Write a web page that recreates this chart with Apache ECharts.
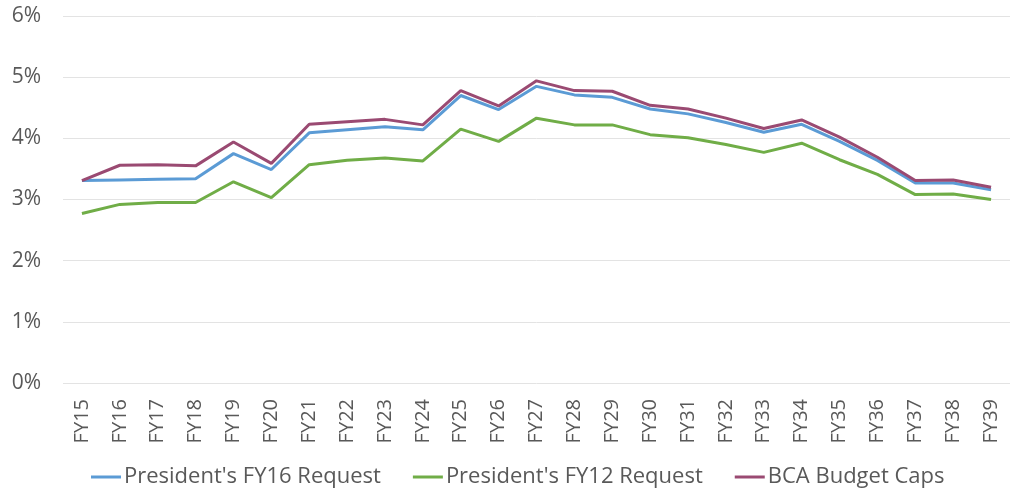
<!DOCTYPE html>
<html>
<head>
<meta charset="utf-8">
<script src="https://cdn.jsdelivr.net/npm/echarts@6/dist/echarts.min.js"></script>
<style>
  html, body { margin: 0; padding: 0; background: #fff; }
  #chart { width: 1010px; height: 497px; }
</style>
</head>
<body>
<div id="chart"></div>
<script>
// fiscal years on the x axis
const years = [
  "FY15", "FY16", "FY17", "FY18", "FY19", "FY20", "FY21", "FY22", "FY23",
  "FY24", "FY25", "FY26", "FY27", "FY28", "FY29", "FY30", "FY31", "FY32",
  "FY33", "FY34", "FY35", "FY36", "FY37", "FY38", "FY39"
];

// percent values
const fy16Request = [
  3.31, 3.32, 3.33, 3.34, 3.75, 3.49, 4.09, 4.14, 4.19,
  4.14, 4.70, 4.47, 4.85, 4.71, 4.67, 4.48, 4.40, 4.26,
  4.10, 4.23, 3.95, 3.64, 3.27, 3.27, 3.16
];
const fy12Request = [
  2.77, 2.92, 2.95, 2.95, 3.29, 3.03, 3.57, 3.64, 3.68,
  3.63, 4.15, 3.95, 4.33, 4.22, 4.22, 4.06, 4.01, 3.90,
  3.77, 3.92, 3.65, 3.41, 3.08, 3.09, 3.00
];
const bcaCaps = [
  3.31, 3.56, 3.57, 3.55, 3.94, 3.59, 4.23, 4.27, 4.31,
  4.22, 4.78, 4.53, 4.94, 4.78, 4.77, 4.54, 4.48, 4.33,
  4.16, 4.30, 4.02, 3.69, 3.31, 3.32, 3.20
];

const textColor = "#595959";
const font = "Open Sans";

const chart = echarts.init(document.getElementById("chart"));

const line = (name, data, color) => ({
  name,
  type: "line",
  data,
  symbol: "none",
  lineStyle: { color, width: 3 },
  itemStyle: { color },
  animation: false,
});

chart.setOption({
  textStyle: { fontFamily: font },
  legend: {
    bottom: 4,
    left: 86,
    itemWidth: 30,
    itemHeight: 3,
    itemGap: 32,
    icon: "rect",
    textStyle: { color: textColor, fontSize: 22, fontFamily: font, padding: [0, 0, 0, -2] },
    data: ["President's FY16 Request", "President's FY12 Request", "BCA Budget Caps"],
  },
  grid: { left: 63, right: 0, top: 16, bottom: 114, containLabel: false },
  xAxis: {
    type: "category",
    data: years,
    boundaryGap: true,
    axisLine: { show: false },
    axisTick: { show: false },
    axisLabel: {
      rotate: 90,
      color: textColor,
      fontSize: 20,
      margin: 16,
      interval: 0,
    },
  },
  yAxis: {
    type: "value",
    min: 0,
    max: 6,
    interval: 1,
    axisLabel: {
      formatter: "{value}%",
      color: textColor,
      fontSize: 21,
      margin: 22,
    },
    splitLine: { lineStyle: { color: "#e3e3e3", width: 1 } },
  },
  series: [
    line("President's FY16 Request", fy16Request, "#5b9bd5"),
    line("President's FY12 Request", fy12Request, "#70ad47"),
    line("BCA Budget Caps", bcaCaps, "#9a4a72"),
  ],
});
</script>
</body>
</html>
